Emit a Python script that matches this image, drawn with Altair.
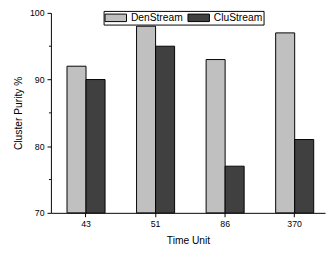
import altair as alt
import pandas as pd

categories = ["43", "51", "86", "370"]
series = ["DenStream", "CluStream"]
den_values = [92, 98, 93, 97]
clu_values = [90, 95, 77, 81]
y_ticks = [70, 80, 90, 100]
y_minor = [75, 85, 95]

rows = []
for c, d, k in zip(categories, den_values, clu_values):
    rows.append({"unit": c, "method": "DenStream", "purity": d})
    rows.append({"unit": c, "method": "CluStream", "purity": k})
df = pd.DataFrame(rows)
minor_df = pd.DataFrame({"v": y_minor})

FONT = "Liberation Sans"

yscale = alt.Scale(domain=[70, 100], zero=False, nice=False)

bars = alt.Chart(df).mark_bar(stroke="black", strokeWidth=1).encode(
    x=alt.X("unit:N", sort=categories, title="Time Unit",
            scale=alt.Scale(paddingInner=0.453, paddingOuter=0.197, align=0.587),
            axis=alt.Axis(labelAngle=0, labelFontSize=9, titleFontSize=10.5,
                          tickSize=4, labelPadding=3, titlePadding=7,
                          domainColor="black", tickColor="black",
                          labelColor="black", titleColor="black",
                          titleFontWeight="normal", labelFont=FONT, titleFont=FONT)),
    xOffset=alt.XOffset("method:N", sort=series),
    y=alt.Y("purity:Q", scale=yscale, title="Cluster Purity %",
            axis=alt.Axis(values=y_ticks, labelFontSize=9, titleFontSize=10.5,
                          tickSize=4, labelPadding=3, titlePadding=6,
                          domainColor="black", tickColor="black",
                          labelColor="black", titleColor="black", grid=False,
                          titleFontWeight="normal", labelFont=FONT, titleFont=FONT)),
    y2=alt.Y2(datum=70),
    color=alt.Color("method:N", sort=series,
                    scale=alt.Scale(domain=series, range=["#c0c0c0", "#404040"]),
                    legend=alt.Legend(title=None, orient="none", direction="horizontal",
                                      legendX=54, legendY=-2,
                                      symbolType="M-1,-0.7L3,-0.7L3,0.7L-1,0.7Z",
                                      symbolSize=121, symbolStrokeColor="black",
                                      symbolStrokeWidth=1, symbolOpacity=1,
                                      labelFontSize=10.5, labelFont=FONT, labelColor="black",
                                      labelOffset=15, columnPadding=2, padding=1,
                                      strokeColor="black", fillColor="white",
                                      cornerRadius=0)),
)

minor = alt.Chart(minor_df).mark_rule(color="black", strokeWidth=1).encode(
    y=alt.Y("v:Q", scale=yscale),
    x=alt.value(-2),
    x2=alt.value(0),
)

chart = alt.layer(bars, minor).properties(
    width=281, height=205,
    autosize=alt.AutoSizeParams(type="none"),
    padding={"left": 44, "top": 2, "right": 1, "bottom": 32},
).configure_view(stroke=None).configure_axis(domainWidth=1, tickWidth=1)

chart.save("out.html", embed_options={"renderer": "svg", "actions": False})
